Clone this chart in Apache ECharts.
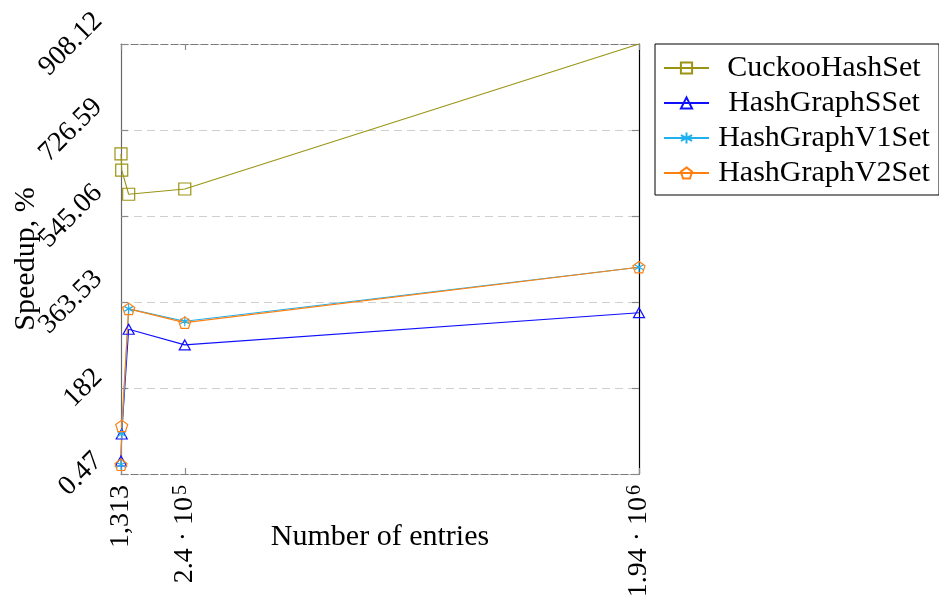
<!DOCTYPE html>
<html>
<head>
<meta charset="utf-8">
<title>Speedup vs number of entries</title>
<script src="https://cdn.jsdelivr.net/npm/echarts@6/dist/echarts.min.js"></script>
<style>
  html, body { margin: 0; padding: 0; background: #fff; }
  #chart { width: 939px; height: 600px; }
</style>
</head>
<body>
<div id="chart"></div>
<script>
// Number of entries in each benchmark run
const entries = [1313, 4000, 30000, 240000, 1940000];

// Speedup (%) per hash set implementation
const cuckooHashSet  = [676, 642, 591, 602, 908.12];
const hashGraphSSet  = [28, 85, 306, 273, 341];
const hashGraphV1Set = [20, 85, 349, 323, 437];
const hashGraphV2Set = [20, 102, 349, 320, 437];

// Axis ticks
const xTickValues = [1313, 240000, 1940000];
const xTickLabels = ['1,313', '2.4 · 10^5', '1.94 · 10^6'];
const yTickValues = [0.47, 182, 363.53, 545.06, 726.59, 908.12];
const yTickLabels = ['0.47', '182', '363.53', '545.06', '726.59', '908.12'];

const X_MIN = xTickValues[0], X_MAX = xTickValues[xTickValues.length - 1];
const Y_MIN = yTickValues[0], Y_MAX = yTickValues[yTickValues.length - 1];

const FONT = '"Liberation Serif", "Times New Roman", serif';
const TICK_FS = 28;
const TEXT_FS = 30;

// y labels are turned 45 degrees and centred on their tick, like a
// rotated node anchored at its east side: pad each label so its centre
// moves left by half its own length.
const measure = document.createElement('canvas').getContext('2d');
measure.font = TICK_FS + 'px ' + FONT;
const yRich = {};
yTickLabels.forEach((t, i) => {
  const p = measure.measureText(t).width / 2;
  yRich['t' + i] = { padding: [0, p, p, 0], fontSize: TICK_FS, fontFamily: FONT, color: '#000' };
});

// x labels: mantissa · 10 with a raised exponent
function xLabel(value) {
  const i = xTickValues.indexOf(value);
  if (i < 0) return '';
  const parts = xTickLabels[i].split('^');
  return parts.length > 1 ? '{b|' + parts[0] + '}{e|' + parts[1] + '}' : '{b|' + parts[0] + '}';
}

// Hollow markers
const PENTAGON = 'path://M0,-1L0.951,-0.309L0.588,0.809L-0.588,0.809L-0.951,-0.309Z';
const ASTERISK = 'path://M0,-1L0,1M-0.866,-0.5L0.866,0.5M-0.866,0.5L0.866,-0.5';

function series(name, values, color, symbol, size) {
  return {
    type: 'line',
    name: name,
    symbol: symbol,
    symbolSize: size,
    // markers sitting on the upper limit are left out, the line still runs there
    data: entries.map((x, i) => ({
      value: [x, values[i]],
      symbol: values[i] >= Y_MAX ? 'none' : symbol
    })),
    lineStyle: { color: color, width: 1.1 },
    itemStyle: { color: 'rgba(0,0,0,0)', borderColor: color, borderWidth: 1.2 },
    emphasis: { disabled: true },
    animation: false
  };
}

const gridLineDash = [8, 5];

const chart = echarts.init(document.getElementById('chart'), null, { renderer: 'canvas' });
chart.setOption({
  animation: false,
  backgroundColor: '#fff',
  textStyle: { fontFamily: FONT },
  grid: { left: 121, right: 300, top: 44, bottom: 126, containLabel: false, outerBoundsMode: 'none' },
  legend: {
    orient: 'vertical',
    left: 655,
    top: 44,
    padding: [9, 5, 7, 8],
    itemWidth: 45,
    itemHeight: 14,
    itemGap: 5,
    borderColor: '#000',
    borderWidth: 1,
    backgroundColor: '#fff',
    selectedMode: false,
    data: ['CuckooHashSet', 'HashGraphSSet', 'HashGraphV1Set', 'HashGraphV2Set'],
    formatter: name => '{n|' + name + '}',
    textStyle: {
      rich: {
        n: { width: 220, align: 'center', fontSize: TEXT_FS, fontFamily: FONT, color: '#000', lineHeight: 30 }
      }
    }
  },
  xAxis: [
    {
      type: 'value',
      position: 'bottom',
      min: X_MIN,
      max: X_MAX,
      name: 'Number of entries',
      nameLocation: 'middle',
      nameGap: 48,
      nameMoveOverlap: false,
      nameTextStyle: { fontSize: TEXT_FS, fontFamily: FONT, color: '#000', verticalAlign: 'top' },
      axisLine: { show: true, onZero: false, lineStyle: { color: '#7a7a7a', width: 1.2, type: [7, 3] } },
      axisTick: { show: true, inside: true, length: 6, customValues: xTickValues, lineStyle: { color: '#8a8a8a', width: 1.2 } },
      axisLabel: {
        customValues: xTickValues,
        rotate: 90,
        margin: 11,
        formatter: xLabel,
        rich: {
          b: { fontSize: TICK_FS, fontFamily: FONT, color: '#000' },
          e: { fontSize: 20, fontFamily: FONT, color: '#000', verticalAlign: 'top', padding: [0, 0, 8, 2] }
        }
      },
      splitLine: { show: false }
    },
    {
      type: 'value',
      position: 'top',
      min: X_MIN,
      max: X_MAX,
      axisLine: { show: true, onZero: false, lineStyle: { color: '#7a7a7a', width: 1.2, type: [7, 3] } },
      axisTick: { show: true, inside: true, length: 6, customValues: xTickValues, lineStyle: { color: '#8a8a8a', width: 1.2 } },
      axisLabel: { show: false },
      splitLine: { show: false }
    }
  ],
  yAxis: [
    {
      type: 'value',
      position: 'left',
      min: Y_MIN,
      max: Y_MAX,
      name: 'Speedup, %',
      nameLocation: 'middle',
      nameGap: 80,
      nameMoveOverlap: false,
      nameTextStyle: { fontSize: TEXT_FS, fontFamily: FONT, color: '#000' },
      axisLine: { show: true, onZero: false, lineStyle: { color: '#6a6a6a', width: 1.2 } },
      axisTick: { show: true, inside: true, length: 7, customValues: yTickValues, lineStyle: { color: '#8a8a8a', width: 1.2 } },
      axisLabel: {
        customValues: yTickValues,
        rotate: 45,
        align: 'center',
        verticalAlign: 'middle',
        margin: 23,
        formatter: value => {
          const i = yTickValues.indexOf(value);
          return i < 0 ? '' : '{t' + i + '|' + yTickLabels[i] + '}';
        },
        rich: yRich
      },
      splitLine: { show: true, lineStyle: { color: '#cfcfcf', width: 1.2, type: gridLineDash } }
    },
    {
      type: 'value',
      position: 'right',
      min: Y_MIN,
      max: Y_MAX,
      axisLine: { show: true, onZero: false, lineStyle: { color: '#000', width: 1.2 } },
      axisTick: { show: true, inside: true, length: 7, customValues: yTickValues, lineStyle: { color: '#8a8a8a', width: 1.2 } },
      axisLabel: { show: false },
      splitLine: { show: false }
    }
  ],
  series: [
    series('CuckooHashSet',  cuckooHashSet,  '#9a9414', 'rect', 12),
    series('HashGraphSSet',  hashGraphSSet,  '#1010ff', 'triangle', [11, 10]),
    series('HashGraphV1Set', hashGraphV1Set, '#1fb0ee', ASTERISK, [9, 10]),
    series('HashGraphV2Set', hashGraphV2Set, '#ff8010', PENTAGON, [12, 11.5])
  ]
});
</script>
</body>
</html>
